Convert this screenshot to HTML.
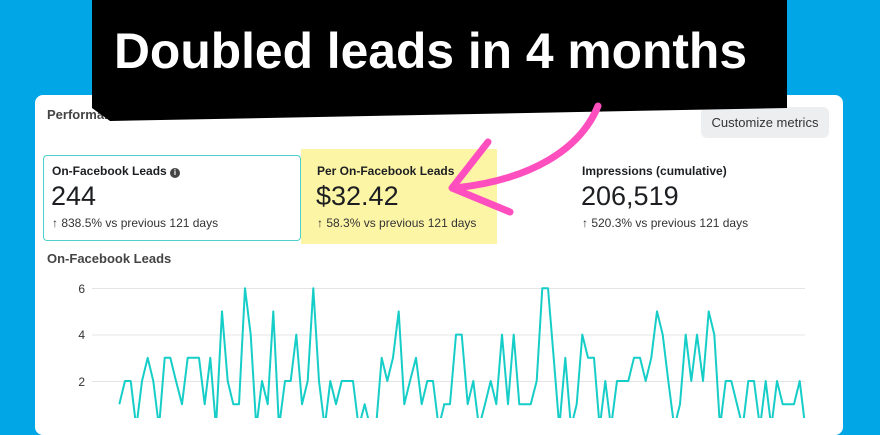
<!DOCTYPE html>
<html><head><style>
body{margin:0;width:880px;height:418px;overflow:hidden;background:#00a6e6;font-family:"Liberation Sans",sans-serif;position:relative}
.card{position:absolute;left:35px;top:95px;width:808px;height:340px;background:#fff;border-radius:8px}
.t{position:absolute;color:#1c1e21;white-space:nowrap}
</style></head><body>
<div class="card"></div>
<div class="t" style="left:47px;top:107px;font-size:13px;font-weight:bold;color:#444">Performance overview</div>
<div style="position:absolute;left:701px;top:107px;width:128px;height:31px;background:#eceef0;border-radius:6px;font-size:13px;color:#333;text-align:center;line-height:31px">Customize metrics</div>
<div style="position:absolute;left:301px;top:149px;width:196px;height:95px;background:#fdf5a6"></div>
<div style="position:absolute;left:43px;top:155px;width:256px;height:84px;border:1px solid #4fd0cc;border-radius:4px"></div>
<div class="t" style="left:52px;top:164px;font-size:12px;font-weight:bold">On-Facebook Leads <span style="display:inline-block;width:10px;height:10px;border-radius:50%;background:#444;color:#fff;font-size:8px;text-align:center;line-height:10px;vertical-align:0">i</span></div>
<div class="t" style="left:51px;top:181px;font-size:27px">244</div>
<div class="t" style="left:52px;top:216px;font-size:12px;color:#333">↑ 838.5% vs previous 121 days</div>
<div class="t" style="left:317px;top:164px;font-size:12px;font-weight:bold">Per On-Facebook Leads</div>
<div class="t" style="left:316px;top:181px;font-size:27px">$32.42</div>
<div class="t" style="left:317px;top:216px;font-size:12px;color:#333">↑ 58.3% vs previous 121 days</div>
<div class="t" style="left:582px;top:164px;font-size:12px;font-weight:bold">Impressions (cumulative)</div>
<div class="t" style="left:581px;top:181px;font-size:27px">206,519</div>
<div class="t" style="left:582px;top:216px;font-size:12px;color:#333">↑ 520.3% vs previous 121 days</div>
<div class="t" style="left:47px;top:251px;font-size:13px;font-weight:bold;color:#444">On-Facebook Leads</div>
<svg width="880" height="418" style="position:absolute;left:0;top:0">
<g stroke="#e4e4e4" stroke-width="1"><line x1="92" x2="805" y1="288.5" y2="288.5"/><line x1="92" x2="805" y1="335" y2="335"/><line x1="92" x2="805" y1="381.5" y2="381.5"/></g>
<g font-size="12" fill="#333" text-anchor="end" font-family="Liberation Sans"><text x="85" y="293">6</text><text x="85" y="339">4</text><text x="85" y="386">2</text></g>
<polyline id="pl" fill="none" stroke="#16cdc7" stroke-width="2" stroke-linejoin="round"/>
<polygon points="92,0 787,0 787,108 110,121 92,108" fill="#000"/>
<text x="114" y="68" font-size="50" font-weight="bold" fill="#fff" font-family="Liberation Sans Narrow, Liberation Sans" textLength="633" lengthAdjust="spacingAndGlyphs">Doubled leads in 4 months</text>
<path d="M598,106 C580,150 530,180 455,188" stroke="#ff4fbf" stroke-width="7" fill="none" stroke-linecap="round"/>
<path d="M488,142 L452,188 L510,212" stroke="#ff4fbf" stroke-width="7" fill="none" stroke-linecap="round" stroke-linejoin="round"/>
</svg>
<script>
var a=[[268,1],[285,2],[302,2],[319,0],[336,2],[353,3],[370,2],[387,0],[404,3],[421,3],[438,2],[456,1],[473,3],[490,3],[507,3],[524,1],[541,3],[558,0],[576,5],[593,2],[610,1],[627,1],[645,6],[662,4],[679,0],[696,2],[713,1],[730,5],[747,0],[765,2],[782,2],[799,4],[816,1],[833,2],[850,6],[867,2],[884,0],[901,2],[918,1],[935,2],[952,2],[969,2],[986,0],[1004,1],[1021,0],[1038,0],[1055,3],[1072,2],[1089,3],[1106,5],[1123,1],[1140,2],[1158,3],[1175,1],[1192,2],[1209,2],[1226,0],[1243,1]];
var b=[[12,1],[30,1],[48,4],[65,4],[83,1],[100,2],[117,0],[135,1],[152,2],[169,1],[186,4],[204,1],[221,4],[238,1],[255,1],[272,1],[290,2],[307,6],[324,6],[341,3],[358,0],[376,3],[393,0],[410,1],[427,4],[444,3],[462,3],[479,0],[496,2],[513,0],[531,2],[548,2],[565,2],[582,3],[600,3],[617,2],[634,3],[651,5],[668,4],[685,2],[703,0],[720,1],[737,4],[754,2],[771,4],[789,2],[806,5],[823,4],[840,0],[857,2],[874,2],[891,1],[908,0],[925,2],[942,2],[960,0],[977,2],[994,0],[1011,2],[1028,1],[1045,1],[1062,1],[1079,2],[1096,0]];
var p=[];a.forEach(function(d){p.push((30+d[0]/3).toFixed(1)+","+(427.4-d[1]*23.2).toFixed(1))});
b.forEach(function(d){p.push((440+d[0]/3).toFixed(1)+","+(427.4-d[1]*23.2).toFixed(1))});
document.getElementById("pl").setAttribute("points",p.join(" "));
</script>
</body></html>
